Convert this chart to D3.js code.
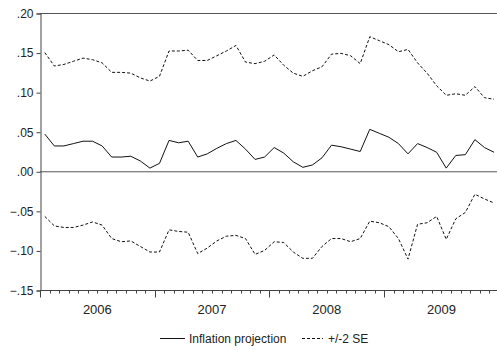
<!DOCTYPE html>
<html>
<head>
<meta charset="utf-8">
<script src="https://cdn.jsdelivr.net/npm/d3@7"></script>
<style>
  body { margin: 0; background: #fff; }
  text { font-family: "Liberation Sans", Arial, sans-serif; fill: #222; }
</style>
</head>
<body>
<script>
// monthly, 2006M01 .. 2009M12
var years = ["2006", "2007", "2008", "2009"];

var projection = [
  0.047, 0.032, 0.032, 0.035, 0.038, 0.038, 0.032, 0.018, 0.018, 0.019, 0.013, 0.004,
  0.010, 0.039, 0.036, 0.038, 0.018, 0.022, 0.029, 0.035, 0.039, 0.028, 0.015, 0.018,
  0.030, 0.023, 0.012, 0.005, 0.008, 0.017, 0.033, 0.031, 0.028, 0.025, 0.053, 0.048,
  0.043, 0.035, 0.022, 0.035, 0.030, 0.024, 0.004, 0.020, 0.021, 0.040, 0.030, 0.024
];
var upperSE = [
  0.150, 0.133, 0.135, 0.139, 0.143, 0.141, 0.137, 0.125, 0.125, 0.124, 0.118, 0.114,
  0.120, 0.152, 0.152, 0.153, 0.140, 0.140, 0.146, 0.152, 0.159, 0.138, 0.136, 0.139,
  0.147, 0.134, 0.124, 0.120, 0.127, 0.132, 0.148, 0.149, 0.146, 0.136, 0.170, 0.165,
  0.160, 0.151, 0.154, 0.137, 0.124, 0.108, 0.096, 0.098, 0.096, 0.107, 0.093, 0.091
];
var lowerSE = [
  -0.057, -0.069, -0.071, -0.071, -0.068, -0.064, -0.068, -0.085, -0.089, -0.088, -0.095, -0.102,
  -0.102, -0.074, -0.076, -0.077, -0.104, -0.097, -0.088, -0.082, -0.081, -0.085, -0.105, -0.100,
  -0.089, -0.090, -0.102, -0.110, -0.110, -0.095, -0.085, -0.085, -0.089, -0.085, -0.063, -0.065,
  -0.070, -0.085, -0.111, -0.067, -0.065, -0.057, -0.086, -0.060, -0.052, -0.029, -0.035, -0.040
];
var yTicks = [0.20, 0.15, 0.10, 0.05, 0.00, -0.05, -0.10, -0.15];

var W = 497, H = 350;
var plotLeft = 40, plotTop = 13, plotBottom = 290;
var nMonths = years.length * 12;

var x = d3.scaleLinear().domain([0, nMonths]).range([plotLeft, plotLeft + 458.8]);
var y = d3.scaleLinear().domain([-0.15, 0.20]).range([plotBottom, plotTop]);

var svg = d3.select("body").append("svg")
    .attr("width", W)
    .attr("height", H);

// frame top + zero line
svg.append("line")
    .attr("x1", plotLeft).attr("x2", W)
    .attr("y1", y(0.20) + 0.5).attr("y2", y(0.20) + 0.5)
    .attr("stroke", "#555");
svg.append("line")
    .attr("x1", plotLeft).attr("x2", W)
    .attr("y1", y(0) + 0.5).attr("y2", y(0) + 0.5)
    .attr("stroke", "#555");

// y axis
var yAxis = d3.axisLeft(y)
    .tickValues(yTicks)
    .tickSize(4)
    .tickPadding(3)
    .tickFormat(function(d) { return d3.format(".2f")(d).replace("0.", "."); });

var gy = svg.append("g")
    .attr("transform", "translate(" + (plotLeft + 0.5) + ",0.5)")
    .call(yAxis);
gy.select(".domain").attr("stroke", "#444");
gy.selectAll(".tick line").attr("stroke", "#444");
gy.selectAll("text").style("font-size", "12px").attr("fill", "#222");

// x axis: minor month ticks, major year ticks
var gx = svg.append("g")
    .attr("transform", "translate(0," + (plotBottom + 0.5) + ")");
gx.append("line")
    .attr("x1", plotLeft).attr("x2", W)
    .attr("stroke", "#444");
gx.selectAll(".minor")
    .data(d3.range(nMonths + 1))
  .enter().append("line")
    .attr("class", "minor")
    .attr("x1", function(d) { return Math.round(x(d)) + 0.5; })
    .attr("x2", function(d) { return Math.round(x(d)) + 0.5; })
    .attr("y1", 0)
    .attr("y2", function(d) { return d % 12 === 0 ? 7 : 3; })
    .attr("stroke", "#444");
gx.selectAll(".year")
    .data(years)
  .enter().append("text")
    .attr("class", "year")
    .attr("x", function(d, i) { return x(i * 12 + 6); })
    .attr("y", 23)
    .attr("text-anchor", "middle")
    .style("font-size", "13px")
    .text(function(d) { return d; });

// series
var line = d3.line()
    .x(function(d, i) { return x(i + 0.5); })
    .y(function(d) { return y(d); });

svg.append("path")
    .datum(upperSE)
    .attr("d", line)
    .attr("fill", "none")
    .attr("stroke", "#111")
    .attr("stroke-width", 1)
    .attr("stroke-dasharray", "3,2");
svg.append("path")
    .datum(lowerSE)
    .attr("d", line)
    .attr("fill", "none")
    .attr("stroke", "#111")
    .attr("stroke-width", 1)
    .attr("stroke-dasharray", "3,2");
svg.append("path")
    .datum(projection)
    .attr("d", line)
    .attr("fill", "none")
    .attr("stroke", "#111")
    .attr("stroke-width", 1);

// legend
var lg = svg.append("g").attr("transform", "translate(0,338.5)");
lg.append("line")
    .attr("x1", 160).attr("x2", 185)
    .attr("stroke", "#111");
lg.append("text")
    .attr("x", 189).attr("y", 4)
    .style("font-size", "12px")
    .text("Inflation projection");
lg.append("line")
    .attr("x1", 302).attr("x2", 323)
    .attr("stroke", "#111")
    .attr("stroke-dasharray", "3,2");
lg.append("text")
    .attr("x", 328).attr("y", 4)
    .style("font-size", "12px")
    .text("+/-2 SE");
</script>
</body>
</html>
